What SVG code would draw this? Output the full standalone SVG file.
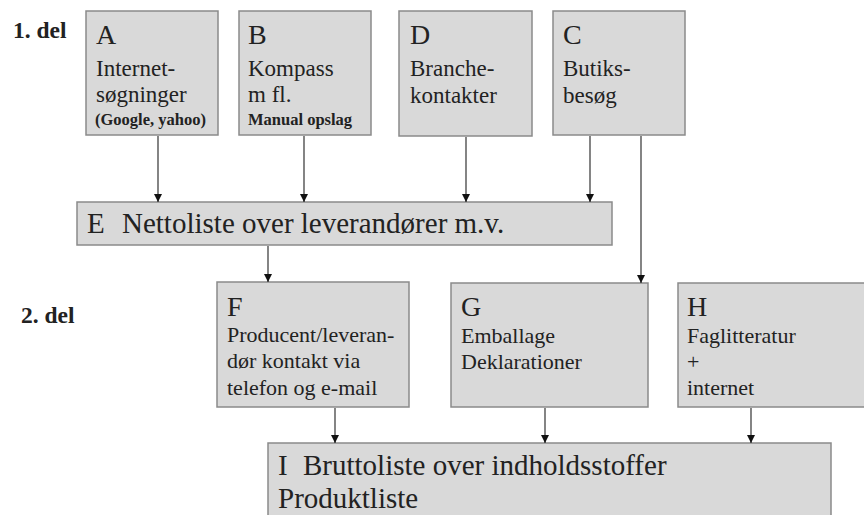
<svg xmlns="http://www.w3.org/2000/svg" width="864" height="515" viewBox="0 0 864 515">
<style>
.box{fill:#d9d9d9;stroke:#8a8a8a;stroke-width:1.5}
text{fill:#222}
.big{font-size:28px}
.wide{font-size:29px}
.body{font-size:22px}
.top{font-size:23px}
.small{font-size:16.5px;font-weight:bold}
.lbl{font-size:23.5px;font-weight:bold}
.con{stroke:#333;stroke-width:1.2;fill:none}
</style>
<defs>
<marker id="ah" viewBox="0 0 8 8" refX="8" refY="4" markerWidth="8" markerHeight="8" markerUnits="userSpaceOnUse" orient="auto">
<path d="M0,0 L8,4 L0,8 z" fill="#111"/>
</marker>
</defs>
<rect width="864" height="515" fill="#fff"/>
<g font-family="'Liberation Serif', 'DejaVu Serif', serif">
<text class="lbl" x="13" y="38">1. del</text>
<text class="lbl" x="21" y="323">2. del</text>
<g id="A">
<rect class="box" x="86" y="11" width="132" height="124"/>
<text class="big" x="96" y="44">A</text>
<text class="top" x="96" y="76">Internet-</text>
<text class="top" x="96" y="102">søgninger</text>
<text class="small" x="95" y="125">(Google, yahoo)</text>
</g>
<g id="B">
<rect class="box" x="239" y="11" width="132" height="124"/>
<text class="big" x="248" y="44">B</text>
<text class="top" x="248" y="76">Kompass</text>
<text class="top" x="248" y="102">m fl.</text>
<text class="small" x="248" y="125">Manual opslag</text>
</g>
<g id="D">
<rect class="box" x="399" y="11" width="133" height="125"/>
<text class="big" x="410" y="44">D</text>
<text class="top" x="410" y="76">Branche-</text>
<text class="top" x="410" y="103">kontakter</text>
</g>
<g id="C">
<rect class="box" x="553" y="11" width="132" height="124"/>
<text class="big" x="563" y="44">C</text>
<text class="top" x="563" y="76">Butiks-</text>
<text class="top" x="563" y="103">besøg</text>
</g>
<g id="E">
<rect class="box" x="77" y="202" width="535" height="43"/>
<text class="wide" x="87" y="233">E <tspan x="122">Nettoliste over leverandører m.v.</tspan></text>
</g>
<g id="F">
<rect class="box" x="217" y="282" width="192" height="125"/>
<text class="big" x="227" y="316">F</text>
<text class="body" x="227" y="342">Producent/leveran-</text>
<text class="body" x="227" y="368">dør kontakt via</text>
<text class="body" x="227" y="395">telefon og e-mail</text>
</g>
<g id="G">
<rect class="box" x="451" y="283" width="197" height="124"/>
<text class="big" x="461" y="316">G</text>
<text class="body" x="461" y="343">Emballage</text>
<text class="body" x="461" y="369">Deklarationer</text>
</g>
<g id="H">
<rect class="box" x="678" y="283" width="200" height="124"/>
<text class="big" x="687" y="316">H</text>
<text class="body" x="687" y="343">Faglitteratur</text>
<text class="body" x="687" y="369">+</text>
<text class="body" x="687" y="395">internet</text>
</g>
<g id="I">
<rect class="box" x="268" y="443" width="563" height="90"/>
<text class="wide" x="278" y="475">I <tspan x="303">Bruttoliste over indholdsstoffer</tspan></text>
<text class="wide" x="278" y="508">Produktliste</text>
</g>
</g>
<g id="connectors">
<line class="con" x1="158" y1="136" x2="158" y2="202" marker-end="url(#ah)"/>
<line class="con" x1="304" y1="136" x2="304" y2="202" marker-end="url(#ah)"/>
<line class="con" x1="466" y1="137" x2="466" y2="202" marker-end="url(#ah)"/>
<line class="con" x1="590" y1="136" x2="590" y2="202" marker-end="url(#ah)"/>
<line class="con" x1="641" y1="136" x2="641" y2="283" marker-end="url(#ah)"/>
<line class="con" x1="268" y1="246" x2="268" y2="282" marker-end="url(#ah)"/>
<line class="con" x1="335" y1="408" x2="335" y2="443" marker-end="url(#ah)"/>
<line class="con" x1="545" y1="408" x2="545" y2="443" marker-end="url(#ah)"/>
<line class="con" x1="751" y1="408" x2="751" y2="443" marker-end="url(#ah)"/>
</g>
</svg>
